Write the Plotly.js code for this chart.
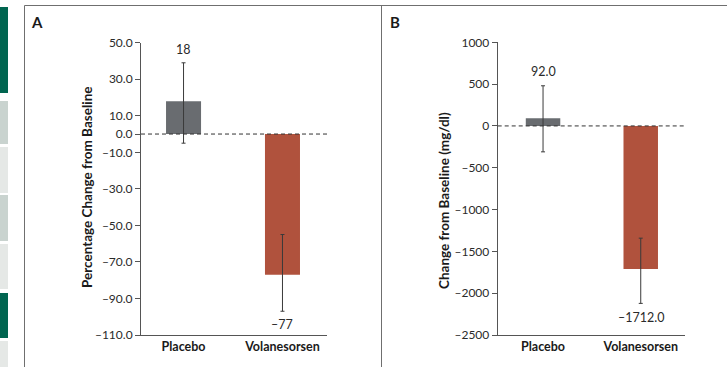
<!DOCTYPE html>
<html><head><meta charset="utf-8">
<script src="https://cdn.plot.ly/plotly-3.0.1.min.js"></script>
<style>html,body{margin:0;padding:0;background:#fff}#chart{width:727px;height:367px}</style>
</head><body><div id="chart"></div>
<script>
// ---- data ----
const categories = ["Placebo", "Volanesorsen"];
// Panel A: percentage change from baseline
const pctChange = [18, -77];
const pctErrPlus = [21, 22];
const pctErrMinus = [23, 20];
const pctLabels = ["18", "\u201377"];
const pctTickVals = [50, 30, 10, 0, -10, -30, -50, -70, -90, -110];
const pctTickText = ["50.0", "30.0", "10.0", "0.0", "\u201310.0", "\u201330.0", "\u201350.0", "\u201370.0", "\u201390.0", "\u2013110.0"];
const pctTitle = "Percentage Change from Baseline";
// Panel B: change from baseline (mg/dl)
const absChange = [92.0, -1712.0];
const absErrPlus = [388, 370];
const absErrMinus = [402, 410];
const absLabels = ["92.0", "\u20131712.0"];
const absTickVals = [1000, 500, 0, -500, -1000, -1500, -2000, -2500];
const absTickText = ["1000", "500", "0", "\u2013500", "\u20131000", "\u20131500", "\u20132000", "\u20132500"];
const absTitle = "Change from Baseline (mg/dl)";
const barColors = ["#696c70", "#b0523d"];

const FONT = "Lato, 'Open Sans', sans-serif";
const W = 727, H = 367;
const px = v => v / W, py = v => 1 - v / H;

const traces = [
  {type: "bar", x: categories, y: pctChange, width: 0.354, xaxis: "x", yaxis: "y",
   marker: {color: barColors}, hoverinfo: "none",
   error_y: {type: "data", symmetric: false, array: pctErrPlus, arrayminus: pctErrMinus,
             color: "#3a3a3a", thickness: 1, width: 2}},
  {type: "bar", x: categories, y: absChange, width: 0.353, xaxis: "x2", yaxis: "y2",
   marker: {color: barColors}, hoverinfo: "none",
   error_y: {type: "data", symmetric: false, array: absErrPlus, arrayminus: absErrMinus,
             color: "#3a3a3a", thickness: 1, width: 2}}
];

const annotations = [];
categories.forEach((c, i) => {
  const upA = pctChange[i] >= 0;
  annotations.push({xref: "x", yref: "y", x: c,
    y: upA ? pctChange[i] + pctErrPlus[i] : pctChange[i] - pctErrMinus[i],
    text: pctLabels[i], showarrow: false, yanchor: upA ? "bottom" : "top", yshift: upA ? 4 : -4,
    font: {family: FONT, size: 12.5, color: "#2a2a2a"}});
  const upB = absChange[i] >= 0;
  annotations.push({xref: "x2", yref: "y2", x: c,
    y: upB ? absChange[i] + absErrPlus[i] : absChange[i] - absErrMinus[i],
    text: absLabels[i], showarrow: false, yanchor: upB ? "bottom" : "top", yshift: upB ? 5 : -5,
    font: {family: FONT, size: 12.5, color: "#2a2a2a"}});
});
// panel letters
annotations.push({xref: "paper", yref: "paper", x: px(37), y: py(22), xanchor: "center", yanchor: "middle",
  text: "<b>A</b>", showarrow: false, font: {family: FONT, size: 15, color: "#1a1a1a"}});
annotations.push({xref: "paper", yref: "paper", x: px(395), y: py(22), xanchor: "center", yanchor: "middle",
  text: "<b>B</b>", showarrow: false, font: {family: FONT, size: 15, color: "#1a1a1a"}});
// y-axis titles
annotations.push({xref: "paper", yref: "paper", x: px(87), y: py(188), xanchor: "center", yanchor: "middle",
  text: "<b>" + pctTitle + "</b>", textangle: -90,
  showarrow: false, font: {family: FONT, size: 13.5, color: "#1a1a1a"}});
annotations.push({xref: "paper", yref: "paper", x: px(444), y: py(201), xanchor: "center", yanchor: "middle",
  text: "<b>" + absTitle + "</b>", textangle: -90,
  showarrow: false, font: {family: FONT, size: 13.5, color: "#1a1a1a"}});

const shapes = [
  // zero reference lines
  {type: "line", xref: "x domain", yref: "y", x0: 0, x1: 1, y0: 0, y1: 0, line: {color: "#333", width: 1, dash: "4px,3px"}},
  {type: "line", xref: "x2 domain", yref: "y2", x0: 0, x1: 1, y0: 0, y1: 0, line: {color: "#333", width: 1, dash: "4px,3px"}},
  // frame
  {type: "line", xref: "paper", yref: "paper", x0: px(24.5), x1: 1, y0: py(5.5), y1: py(5.5), line: {color: "#6f6f6f", width: 1}},
  {type: "line", xref: "paper", yref: "paper", x0: px(24.5), x1: px(24.5), y0: py(5.5), y1: 0, line: {color: "#6f6f6f", width: 1}},
  {type: "line", xref: "paper", yref: "paper", x0: px(381.5), x1: px(381.5), y0: py(5.5), y1: 0, line: {color: "#6f6f6f", width: 1}},
];
// side strip blocks
const strip = [[7, 93, "#006550"], [101, 144, "#c9d3cf"], [147, 193, "#e5e8e6"], [195, 241, "#c9d3cf"],
               [244, 289, "#e5e8e6"], [293, 338, "#006550"], [341, 367, "#e5e8e6"]];
strip.forEach(s => shapes.push({type: "rect", xref: "paper", yref: "paper", x0: 0, x1: px(8), y0: py(s[1]), y1: py(s[0]),
  fillcolor: s[2], line: {width: 0}, layer: "below"}));

const yBase = {showgrid: false, zeroline: false, showline: true, linecolor: "#555", linewidth: 1,
  ticks: "outside", ticklen: 5, tickcolor: "#555", tickwidth: 1,
  tickfont: {family: FONT, size: 12, color: "#2a2a2a"}, tickmode: "array"};
const xBase = {showgrid: false, zeroline: false, showline: true, linecolor: "#555", linewidth: 1,
  ticks: "", tickfont: {family: FONT, size: 12.5, color: "#1a1a1a", weight: "bold"}, type: "category"};

const layout = {
  width: W, height: H, margin: {l: 0, r: 0, t: 0, b: 0},
  paper_bgcolor: "#fff", plot_bgcolor: "rgba(0,0,0,0)", showlegend: false,
  xaxis: Object.assign({}, xBase, {domain: [px(141), px(327)], range: [-0.43, 1.45], anchor: "y"}),
  yaxis: Object.assign({}, yBase, {domain: [py(335), py(42.7)], range: [-110, 50], anchor: "x",
    tickvals: pctTickVals, ticktext: pctTickText}),
  xaxis2: Object.assign({}, xBase, {domain: [px(497.7), px(685)], range: [-0.464, 1.453], anchor: "y2"}),
  yaxis2: Object.assign({}, yBase, {domain: [py(335), py(42.3)], range: [-2500, 1000], anchor: "x2",
    tickvals: absTickVals, ticktext: absTickText}),
  annotations: annotations, shapes: shapes
};
Plotly.newPlot("chart", traces, layout, {staticPlot: true, displayModeBar: false});
</script></body></html>
